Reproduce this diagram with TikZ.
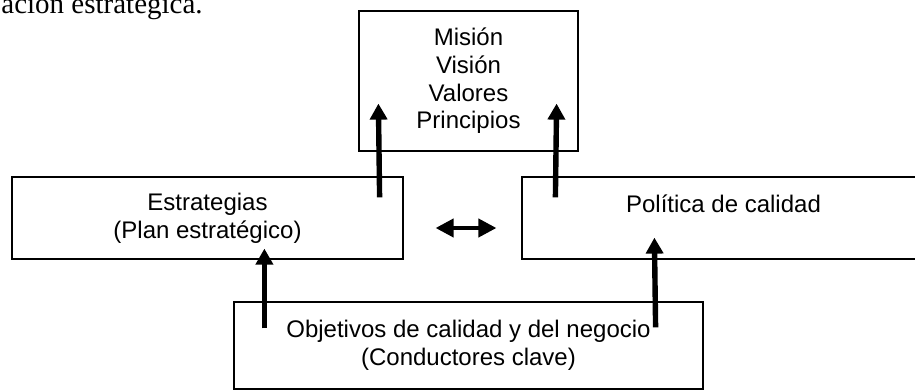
\documentclass[tikz,border=0pt]{standalone}
\usepackage{fontspec}
\setmainfont{Liberation Sans}
\newfontfamily\captionfont{Liberation Serif}
\usetikzlibrary{arrows.meta, calc, positioning}

\begin{document}
\begin{tikzpicture}[x=0.5pt, y=-0.5pt, >={Triangle[length=8pt, width=8.5pt]},
  box/.style={draw, line width=0.6pt, align=center, inner sep=0pt,
    font=\fontsize{12}{13.8}\selectfont},
  uparrow/.style={->, line width=2.7pt},
  bothways/.style={arrows={Triangle[length=9pt, width=9pt]-Triangle[length=9pt, width=9pt]}, line width=2pt}]
\useasboundingbox (0,0) rectangle (915,390);
\node[anchor=base west, inner sep=0pt, font=\captionfont\fontsize{14.5}{17}\selectfont] (caption) at (1,14) {ación estratégica.};

% boxes
\node[box, minimum width=109.5pt, minimum height=70pt] (mision) at (468.5,81) {Misión\\Visión\\Valores\\Principios};
\node[box, minimum width=195.5pt, minimum height=41pt] (estrategias) at (207.5,218) {Estrategias\\(Plan estratégico)};
\node[box, minimum width=201.5pt, minimum height=41pt, text height=10pt, text depth=16pt] (politica) at (723.5,218) {Política de calidad};
\node[box, minimum width=234.5pt, minimum height=43.5pt] (objetivos) at (468.5,345.5) {Objetivos de calidad y del negocio\\(Conductores clave)};

% arrow ends
\coordinate (e-up) at ($(estrategias.north east)+(-24,21)$);
\coordinate (m-left) at ($(mision.south west)+(20,-48)$);
\coordinate (p-up) at ($(politica.north west)+(34,21)$);
\coordinate (m-right) at ($(mision.south east)+(-22,-48)$);
\coordinate (o-left) at ($(objetivos.north west)+(31,27)$);
\coordinate (e-in) at ($(estrategias.south west)+(253,-11)$);
\coordinate (o-right) at ($(objetivos.north east)+(-48,26)$);
\coordinate (p-in) at ($(politica.south west)+(133,-22)$);

% draw arrows
\draw[uparrow] (e-up) -- (m-left);
\draw[uparrow] (p-up) -- (m-right);
\draw[uparrow] (o-left) -- (e-in);
\draw[uparrow] (o-right) -- (p-in);
\draw[bothways] ($(estrategias.east)+(32,10)$) -- ($(politica.west)+(-25,10)$);
\end{tikzpicture}
\end{document}
